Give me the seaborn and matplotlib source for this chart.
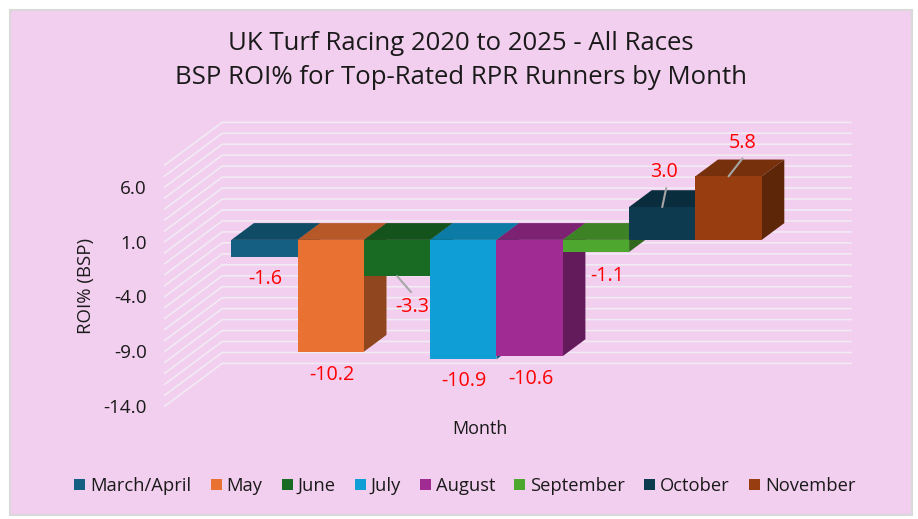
import numpy as np
import pandas as pd
import matplotlib
matplotlib.use("Agg")
import matplotlib.pyplot as plt
from matplotlib.patches import Polygon, Rectangle
from matplotlib.colors import to_rgb
import seaborn as sns

# Return on investment by month
months = ["March/April", "May", "June", "July", "August", "September", "October", "November"]
roi_values = [-1.6, -10.2, -3.3, -10.9, -10.6, -1.1, 3.0, 5.8]
value_labels = ["-1.6", "-10.2", "-3.3", "-10.9", "-10.6", "-1.1", "3.0", "5.8"]
bar_colors = ["#156082", "#E97132", "#196B24", "#0F9ED5", "#A02B93", "#4EA72E", "#0D3A4E", "#983D0F"]
y_ticks = [-14, -9, -4, 1, 6]
y_tick_labels = ["-14.0", "-9.0", "-4.0", "1.0", "6.0"]
wall_levels = list(range(-14, 9))

PANEL = "#F2CEEF"
LABEL_RED = "#FF0000"
GRID = "#F1EBF4"
LEADER = "#A6A6A6"
FONT = "Open Sans"

W, H = 918, 519
sns.set_theme(style="white")
plt.rcParams["font.family"] = [FONT, "DejaVu Sans"]

fig = plt.figure(figsize=(W / 100, H / 100), dpi=100, facecolor="white")


def axes_from_pixels(left, top, right, bottom):
    return fig.add_axes([left / W, 1 - bottom / H, (right - left) / W, (bottom - top) / H])


# Chart panel with its thin grey border
fig.add_artist(Rectangle((10 / W, 1 - 514.5 / H), 902 / W, 505 / H, transform=fig.transFigure,
                         facecolor=PANEL, edgecolor="#D9D9D9", linewidth=1.5, zorder=-5))

# Pixel geometry of the oblique projection
PX_UNIT = 10.96
BAR_W = 66.3
PLANE_LEFT = 182.0
PLANE_RIGHT = 811.0
ZERO_Y = 239.9
DEPTH_X = 22.6
DEPTH_Y = 16.8
WALL_FRONT = -0.775
WALL_BACK = 1.78

# Axes on the front plane of the bars
side_margin = (PLANE_RIGHT - PLANE_LEFT) / BAR_W - len(months)
x_low = -0.5 - side_margin / 2
x_high = len(months) - 0.5 + side_margin / 2
plane_top = ZERO_Y - 9.0 * PX_UNIT
plane_bottom = ZERO_Y + 15.0 * PX_UNIT
ax = axes_from_pixels(PLANE_LEFT, plane_top, PLANE_RIGHT, plane_bottom)

df = pd.DataFrame({"Month": months, "ROI": roi_values})
sns.barplot(data=df, x="Month", y="ROI", hue="Month", hue_order=months, order=months,
            palette=bar_colors, saturation=1, width=1.0, dodge=False, linewidth=0, ax=ax, legend=True)
ax.set_xlim(x_low, x_high)
ax.set_ylim(-15.0, 9.0)
legend_handles = ax.get_legend().legend_handles
ax.get_legend().remove()
ax.set_axis_off()

dx = DEPTH_X / BAR_W
dy = DEPTH_Y / PX_UNIT


def project(x, v, depth):
    return x + depth * dx, v + depth * dy


# Left wall and back wall lines
for level in wall_levels:
    p0 = project(x_low, level, WALL_FRONT)
    p1 = project(x_low, level, WALL_BACK)
    p2 = project(x_high, level, WALL_BACK)
    ax.plot([p0[0], p1[0], p2[0]], [p0[1], p1[1], p2[1]], color=GRID, lw=1.2, zorder=0.5,
            clip_on=False, solid_joinstyle="miter")


def shade(color, factor):
    return tuple(c * factor for c in to_rgb(color))


# Extrude every bar into a box, left to right so later bars cover earlier sides
bars = [c[0] for c in ax.containers]
for i, (bar, color) in enumerate(zip(bars, bar_colors)):
    x0, x1 = bar.get_x(), bar.get_x() + bar.get_width()
    v0, v1 = bar.get_y(), bar.get_y() + bar.get_height()
    low, high = min(v0, v1), max(v0, v1)
    base_z = 2 + i
    top = [project(x0, high, 0), project(x1, high, 0), project(x1, high, 1), project(x0, high, 1)]
    side = [project(x1, low, 0), project(x1, high, 0), project(x1, high, 1), project(x1, low, 1)]
    ax.add_patch(Polygon(top, closed=True, facecolor=shade(color, 0.78), edgecolor="none",
                         zorder=base_z + 0.1, clip_on=False))
    ax.add_patch(Polygon(side, closed=True, facecolor=shade(color, 0.62), edgecolor="none",
                         zorder=base_z + 0.2, clip_on=False))
    bar.set_zorder(base_z + 0.3)
    bar.set_clip_on(False)

# Value labels, placed relative to the end of each bar (offsets in pixels)
label_offsets = [(1, -22), (1, -23), (15, -31), (1, -22), (1, -23), (11, -24), (2, 35), (14, 33)]
for i, (val, text) in enumerate(zip(roi_values, value_labels)):
    off_x, off_y = label_offsets[i]
    ax.annotate(text, xy=(i, val), xytext=(off_x * 0.72, off_y * 0.72), textcoords="offset points",
                ha="center", va="center", color=LABEL_RED, fontsize=14.2, zorder=20)

# Leader lines joining bar ends to their labels
leaders = {2: (14, -16), 6: (4, 19), 7: (14, 18)}
for i, delta in leaders.items():
    ax.annotate("", xy=(i, roi_values[i]), xytext=(delta[0] * 0.72, delta[1] * 0.72),
                textcoords="offset points", zorder=19,
                arrowprops=dict(arrowstyle="-", color=LEADER, lw=1.5, shrinkA=0, shrinkB=0))

# Axes on the front edge of the left wall, carrying the value axis and titles
wall = axes_from_pixels(165, 165, 794, 406)
wall.patch.set_visible(False)
wall.set_ylim(-14, 8)
wall.set_xlim(0, 1)
wall.set_xticks([])
wall.set_yticks(y_ticks)
wall.set_yticklabels(y_tick_labels, fontsize=13.6, color="#1A1A1A")
wall.tick_params(axis="y", length=0, pad=13)
wall.set_ylabel("ROI% (BSP)", fontsize=13.4, color="#1A1A1A", labelpad=6)
wall.set_xlabel("Month", fontsize=13, color="#1A1A1A", labelpad=10)
sns.despine(ax=wall, left=True, bottom=True)

fig.text(461 / W, 1 - 60.5 / H, "UK Turf Racing 2020 to 2025 - All Races\nBSP ROI% for Top-Rated RPR Runners by Month",
         ha="center", va="center", fontsize=18.5, color="#1A1A1A", linespacing=1.43)

fig.legend(legend_handles, months, loc="center", bbox_to_anchor=(465 / W, 1 - 486 / H), ncol=8, frameon=False,
           fontsize=13.2, handlelength=0.6, handleheight=0.6, handletextpad=0.27, columnspacing=1.04,
           labelcolor="#1A1A1A", borderpad=0)

fig.savefig("out.png", dpi=100, facecolor="white")
